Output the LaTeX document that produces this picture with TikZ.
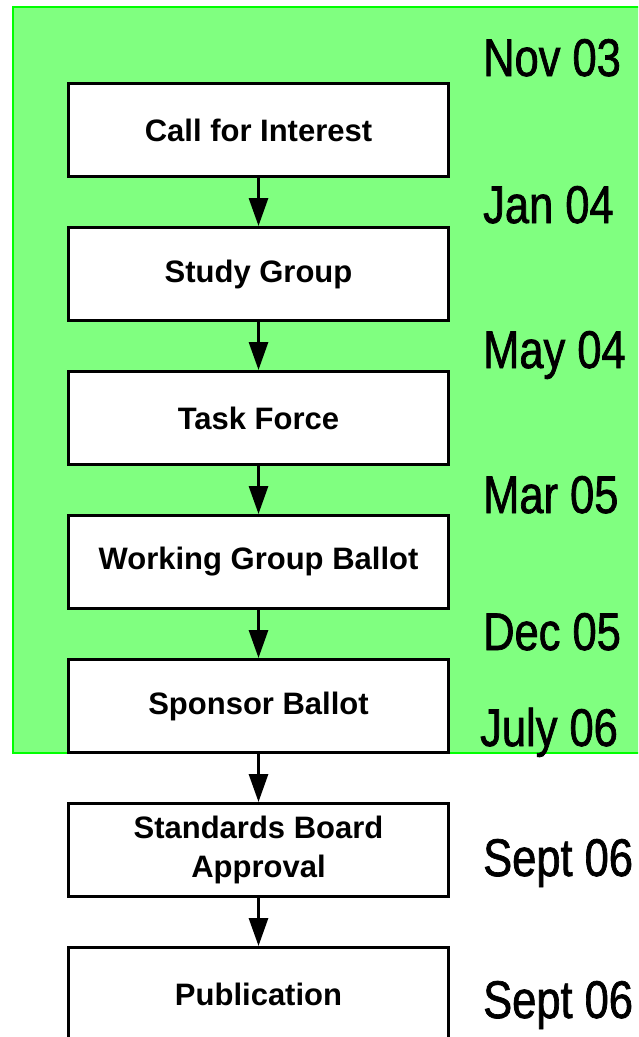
\documentclass[tikz,border=0pt]{standalone}
\usepackage{fontspec}
\usepackage{xcolor}
\usepackage{tikz}
\usetikzlibrary{arrows.meta}
\setmainfont{Liberation Sans}
\newfontfamily\datefont[FakeStretch=0.82,FakeBold=1.3]{Liberation Sans}

\definecolor{panelgreen}{HTML}{80FF80}
\definecolor{panelline}{HTML}{00FF00}

\tikzset{
  stagebox/.style={draw=black, fill=white, line width=3pt, minimum width=380pt,
    minimum height=93pt, align=center, font=\fontsize{31}{39}\selectfont\bfseries},
  datelabel/.style={anchor=base west, inner sep=0pt, font=\fontsize{53}{53}\selectfont\datefont},
  flow/.style={line width=3pt, -{Triangle[width=19pt,length=28pt]}}
}

\begin{document}
\begin{tikzpicture}[x=1pt, y=-1pt]
             \clip (0, 0) rectangle (638, 1037);
             \fill[white] (0, 0) rectangle (638, 1037);

             % green panel
             \draw[fill=panelgreen, draw=panelline, line width=1.5pt] (13, 7) rectangle (660, 753);

             \node[stagebox] (cfi) at (258.5, 130) {Call for Interest};
             \node[stagebox] (sg) at (258.5, 274) {Study Group};
             \node[stagebox] (tf) at (258.5, 418) {Task Force};
             \node[stagebox] (wgb) at (258.5, 562) {Working Group Ballot};
             \node[stagebox] (sb) at (258.5, 706) {Sponsor Ballot};
             \node[stagebox] (sba) at (258.5, 850) {Standards Board\\Approval};
             \node[stagebox] (pub) at (258.5, 994) {Publication};

             \draw[flow] (cfi) -- (sg);
             \draw[flow] (sg) -- (tf);
             \draw[flow] (tf) -- (wgb);
             \draw[flow] (wgb) -- (sb);
             \draw[flow] (sb) -- (sba);
             \draw[flow] (sba) -- (pub);

             % dates
             \node[datelabel] (dnov) at (483, 76) {Nov 03};
             \node[datelabel] (djan) at (483, 223) {Jan 04};
             \node[datelabel] (dmay) at (483, 368) {May 04};
             \node[datelabel] (dmar) at (483, 513) {Mar 05};
             \node[datelabel] (ddec) at (483, 650) {Dec 05};
             \node[datelabel] (djul) at (480, 746) {July 06};
             \node[datelabel] (dsep) at (483, 876) {Sept 06};
             \node[datelabel] (dpub) at (483, 1018) {Sept 06};

\end{tikzpicture}
\end{document}
